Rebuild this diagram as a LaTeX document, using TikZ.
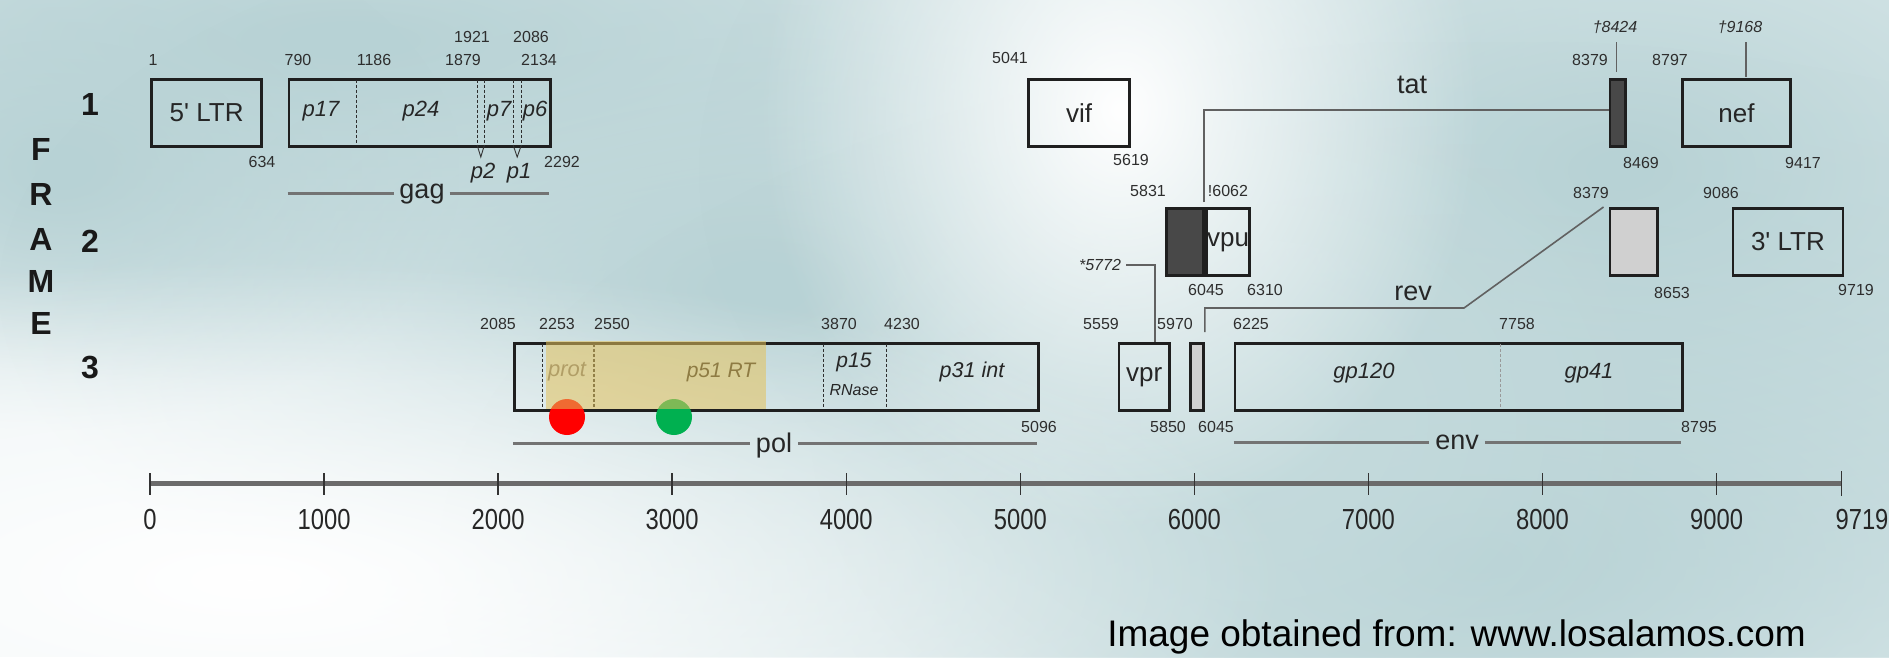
\documentclass[tikz,border=0pt]{standalone}
\usepackage{fontspec}
\setmainfont{Liberation Sans}
\newfontfamily\narrowfont[FakeStretch=0.82]{Liberation Sans}
\usetikzlibrary{fadings}
\definecolor{bgbase}{RGB}{237,244,245}
\definecolor{bgteal}{RGB}{183,210,213}
\definecolor{yellowov}{RGB}{228,194,92}
\definecolor{mutred}{RGB}{255,0,0}
\definecolor{mutgreen}{RGB}{0,176,80}
\definecolor{revgray}{RGB}{208,208,208}
\definecolor{tatdark}{RGB}{72,72,72}
\tikzfading[name=softblob, inner color=transparent!0, outer color=transparent!100]
\newcommand\gbx[6]{\node[gbox,#5,anchor=north west,minimum width={(#3)-(#2)}] (#1) at (#2,#4) {#6};}
\newcommand\bgblob[5]{\fill[#5, path fading=softblob] ({#1-2*#3},{#2-2*#4}) rectangle ({#1+2*#3},{#2+2*#4});}
\begin{document}
\begin{tikzpicture}[x=1pt,y=-1pt,
  numlab/.style={font=\fontsize{16}{16}\selectfont, text=black!82, inner sep=0pt},
  inumlab/.style={font=\fontsize{16}{16}\selectfont\itshape, text=black!82, inner sep=0pt},
  gbox/.style={draw=black!88, line width=2.6pt, inner sep=0pt, minimum height=67pt, font=\fontsize{26}{26}\selectfont, text=black!85},
  sublab/.style={font=\fontsize{22}{22}\selectfont\itshape, text=black!85, inner sep=0pt},
  glab/.style={font=\fontsize{27}{27}\selectfont, text=black!85, inner sep=0pt},
  subdiv/.style={dash pattern=on 3pt off 2pt, line width=1.2pt, black!82},
  connline/.style={line width=1.6pt, black!62},
  spanline/.style={line width=3pt, black!55},
  axisl/.style={font=\narrowfont\fontsize{29}{29}\selectfont, text=black!85, inner sep=0pt},
  framel/.style={font=\fontsize{32}{32}\selectfont\bfseries, text=black!90, inner sep=0pt},
]
\useasboundingbox (0,0) rectangle (1889,657);
% ---------- background ----------
\fill[bgbase] (0,0) rectangle (1889,657);
\bgblob{350}{40}{620}{170}{bgteal}
\bgblob{60}{170}{200}{130}{bgteal}
\bgblob{760}{290}{380}{190}{bgteal}
\bgblob{1620}{170}{460}{270}{bgteal}
\bgblob{1480}{560}{520}{260}{bgteal}
\bgblob{1250}{420}{220}{180}{bgteal!80}
\bgblob{1120}{110}{180}{210}{white}
\bgblob{250}{580}{520}{160}{white}
% ---------- frame labels ----------
\node[framel] (fF) at (41,149) {F};
\node[framel] (fR) at (41,194) {R};
\node[framel] (fA) at (41,239) {A};
\node[framel] (fM) at (41,281) {M};
\node[framel] (fE) at (41,323) {E};
\node[framel] (r1) at (90,104) {1};
\node[framel] (r2) at (90,241) {2};
\node[framel] (r3) at (90,367) {3};
% ---------- frame 1 ----------
\gbx{ltrF}{150.2}{260.4}{78}{}{5\textquotesingle{} LTR}
\gbx{gagbox}{287.5}{548.9}{78}{}{}
\foreach \xx in {356.4,477.1,484.4,513.1,521.4} \draw[subdiv] (\xx,79.5) -- (\xx,143.5);
\draw[line width=0.9pt, black!80] (477.1,145) -- (480.8,157) -- (484.4,145);
\draw[line width=0.9pt, black!80] (513.1,145) -- (517.2,157) -- (521.4,145);
\node[sublab] (p17) at (321,111) {p17};
\node[sublab] (p24) at (421,111) {p24};
\node[sublab] (p7) at (499,111) {p7};
\node[sublab] (p6) at (535,111) {p6};
\node[sublab] (p2) at (483,173) {p2};
\node[sublab] (p1) at (519,173) {p1};
\gbx{vif}{1027.4}{1128.1}{78}{}{vif}
\gbx{tatB}{1608.5}{1624.1}{78}{fill=tatdark}{}
\gbx{nef}{1681.2}{1789.1}{78}{}{nef}
% ---------- frame 2 ----------
\gbx{tatA}{1164.9}{1202.2}{207}{fill=tatdark}{}
\gbx{vpu}{1205.1}{1248.3}{207}{}{vpu}
\gbx{revB}{1608.5}{1656.1}{207}{fill=revgray}{}
\gbx{ltrT}{1731.5}{1841.7}{207}{}{3\textquotesingle{} LTR}
% ---------- frame 3 ----------
\gbx{polbox}{512.9}{1037.0}{342}{}{}
\foreach \xx in {542.2,593.9,823.6,886.3} \draw[subdiv] (\xx,343.5) -- (\xx,407.5);
\node[sublab, text=black!55] (prot) at (567,372) {prot};
\node[sublab, font=\fontsize{21}{21}\selectfont\itshape] (p51) at (721,372) {p51 RT};
\node[sublab, font=\fontsize{21}{21}\selectfont\itshape] (p15) at (854,362) {p15};
\node[sublab, font=\fontsize{16}{16}\selectfont\itshape] (rnase) at (854,390) {RNase};
\node[sublab, font=\fontsize{21.5}{21.5}\selectfont\itshape] (p31) at (972,372) {p31 int};
\gbx{vpr}{1117.6}{1168.3}{342}{}{vpr}
\gbx{revA}{1189.1}{1202.2}{342}{fill=revgray}{}
\gbx{envbox}{1233.5}{1680.9}{342}{}{}
\draw[dash pattern=on 3pt off 2pt, line width=1pt, black!40] (1500.4,343.5) -- (1500.4,407.5);
\node[sublab] (gp120) at (1364,373) {gp120};
\node[sublab] (gp41) at (1589,373) {gp41};
% mutation dots and highlighted region
\node[circle, fill=mutred, minimum size=36pt, inner sep=0pt] (dotR) at (567,417) {};
\node[circle, fill=mutgreen, minimum size=36pt, inner sep=0pt] (dotG) at (674,417) {};
\fill[yellowov, opacity=0.55] (546,341) rectangle (765.5,409);
% ---------- spans ----------
\node[glab, inner xsep=5pt] (gaglab) at (422,194) {gag};
\coordinate (gagS) at (287.5,193); \coordinate (gagE) at (548.9,193);
\draw[spanline] (gagS) -- (gaglab.west |- gagS);
\draw[spanline] (gaglab.east |- gagE) -- (gagE);
\node[glab, inner xsep=6pt] (pollab) at (774,446) {pol};
\coordinate (polS) at (512.9,443); \coordinate (polE) at (1037,443);
\draw[spanline] (polS) -- (pollab.west |- polS);
\draw[spanline] (pollab.east |- polE) -- (polE);
\node[glab, inner xsep=6pt] (envlab) at (1457,442.5) {env};
\coordinate (envS) at (1233.5,442); \coordinate (envE) at (1680.9,442);
\draw[spanline] (envS) -- (envlab.west |- envS);
\draw[spanline] (envlab.east |- envE) -- (envE);
% ---------- splicing connectors ----------
\node[glab] (tatlab) at (1412,85) {tat};
\coordinate (tatbend) at (1201,110);
\draw[connline] ([yshift=5pt]tatA.north east) ++(-1,0) |- (tatB.west |- tatbend);
\node[glab] (revlab) at (1413,293.5) {rev};
\coordinate (revbend) at (1464,308);
\draw[connline] ([yshift=10pt]revA.north east) |- (revbend) -- ([xshift=-5pt]revB.north west);
\node[inumlab] (l5772) at (1100,265) {*5772};
\coordinate (fs5772) at (1154.7,342);
\draw[connline] ([xshift=5pt]l5772.east) -| (fs5772);
\node[inumlab] (l8424) at (1615,27) {\textdagger 8424};
\coordinate (s8424) at (1616.3,72);
\draw[connline] (1616.3,42) -- (s8424);
\node[inumlab] (l9168) at (1740,27) {\textdagger 9168};
\coordinate (s9168) at (1745.8,77);
\draw[connline] (1745.8,42) -- (s9168);
% ---------- coordinate labels ----------
\node[numlab] (n1) at (153,60) {1};
\node[numlab] (n790) at (298,60) {790};
\node[numlab] (n1186) at (374,60) {1186};
\node[numlab] (n1879) at (463,60) {1879};
\node[numlab] (n1921) at (472,37) {1921};
\node[numlab] (n2086) at (531,37) {2086};
\node[numlab] (n2134) at (539,60) {2134};
\node[numlab] (n634) at (262,162) {634};
\node[numlab] (n2292) at (562,162) {2292};
\node[numlab] (n5041) at (1010,58) {5041};
\node[numlab] (n5619) at (1131,160) {5619};
\node[numlab] (n8379a) at (1590,60) {8379};
\node[numlab] (n8797) at (1670,60) {8797};
\node[numlab] (n8469) at (1641,163) {8469};
\node[numlab] (n9417) at (1803,163) {9417};
\node[numlab] (n5831) at (1148,191) {5831};
\node[numlab] (n6062) at (1228,191) {!6062};
\node[numlab] (n8379b) at (1591,193) {8379};
\node[numlab] (n9086) at (1721,193) {9086};
\node[numlab] (n6045a) at (1206,290) {6045};
\node[numlab] (n6310) at (1265,290) {6310};
\node[numlab] (n8653) at (1672,293) {8653};
\node[numlab] (n9719) at (1856,290) {9719};
\node[numlab] (n2085) at (498,324) {2085};
\node[numlab] (n2253) at (557,324) {2253};
\node[numlab] (n2550) at (612,324) {2550};
\node[numlab] (n3870) at (839,324) {3870};
\node[numlab] (n4230) at (902,324) {4230};
\node[numlab] (n5559) at (1101,324) {5559};
\node[numlab] (n5970) at (1175,324) {5970};
\node[numlab] (n6225) at (1251,324) {6225};
\node[numlab] (n7758) at (1517,324) {7758};
\node[numlab] (n5096) at (1039,427) {5096};
\node[numlab] (n5850) at (1168,427) {5850};
\node[numlab] (n6045b) at (1216,427) {6045};
\node[numlab] (n8795) at (1699,427) {8795};
% ---------- axis ----------
\coordinate (ax0) at (150,483); \coordinate (ax1) at (1841.7,483);
\draw[line width=5pt, black!58] (ax0) -- (ax1);
\foreach \k in {0,...,9} \draw[line width=1.4pt, black!80] ({150+174.06*\k},473) -- ++(0,22);
\draw[line width=1.4pt, black!80] (1841.7,471) -- (1841.7,496);
\foreach \k/\lab in {0/0,1/1000,2/2000,3/3000,4/4000,5/5000,6/6000,7/7000,8/8000,9/9000}
  \node[axisl] (t\k) at ({150+174.06*\k},519.5) {\lab};
\node[axisl] (t10) at (1862,519.5) {9719};
% ---------- credit ----------
\node[font=\fontsize{37}{37}\selectfont, text=black, inner sep=0pt] (credit) at (1456.5,637) {Image obtained from: www.losalamos.com};
\end{tikzpicture}
\end{document}
